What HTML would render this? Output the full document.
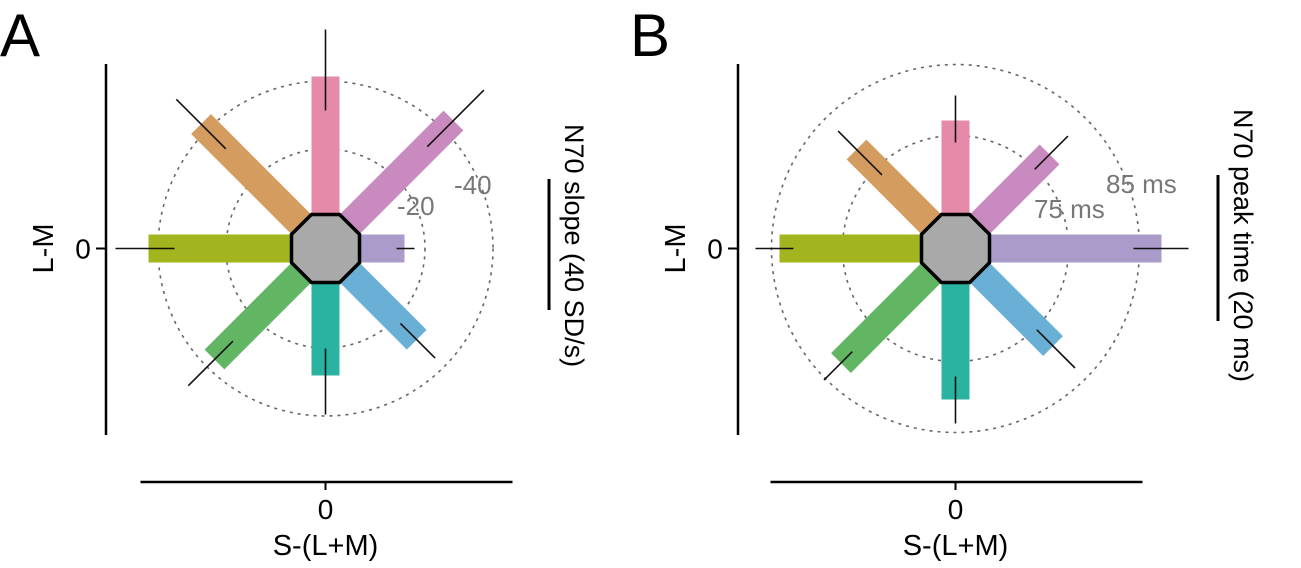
<!DOCTYPE html>
<html><head><meta charset="utf-8"><style>
html,body{margin:0;padding:0;background:#fff;}
svg{display:block;font-family:"Liberation Sans",Arial,sans-serif;}
</style></head><body>
<svg id="fig" width="1301" height="568" viewBox="0 0 1301 568">
<text x="0" y="56" font-size="60">A</text>
<text x="630" y="56" font-size="60">B</text>
<g id="panelA"></g>
<g id="panelB"></g>
</svg>
<script>
// directions: up, up-right, right, down-right, down, down-left, left, up-left
const angles = [90, 45, 0, -45, -90, -135, 180, 135];
const colors = ['#e58aa8','#c98bbf','#ab9bca','#6ab0d6','#2bb3a2','#62b562','#a2b41e','#d49c5f'];
const dirNames = ['up','up-right','right','down-right','down','down-left','left','up-left'];
// Panel A values (pixel radius units of the polar plot)
const barsA = [172, 181, 79, 129, 127, 157, 177, 176];
const errLoA = [138, 144, 71, 106, 100, 131, 151, 141];
const errHiA = [219, 224, 89, 155, 166, 194, 210, 211];
const ringsA = [99.5, 167.5];
const ringLabelsA = ['-20', '-40'];
// Panel B values
const barsB = [128, 133, 206, 138, 151, 162, 176, 140];
const errLoB = [106, 112, 178, 115, 128, 146, 162, 104];
const errHiB = [153, 159, 233, 169, 175, 186, 200, 166];
const ringsB = [113, 184];
const ringLabelsB = ['75 ms', '85 ms'];

const NS = 'http://www.w3.org/2000/svg';
function mk(tag, attrs, parent){const e=document.createElementNS(NS,tag);for(const k in attrs)e.setAttribute(k,attrs[k]);parent.appendChild(e);return e;}

function drawPanel(g, cfg){
  const cx=cfg.cx, cy=cfg.cy;
  const px=(r,a)=>cx+r*Math.cos(a*Math.PI/180);
  const py=(r,a)=>cy-r*Math.sin(a*Math.PI/180);
  cfg.rings.forEach((r,i)=>{
    const c=mk('circle',{cx:cx,cy:cy,r:r,fill:'none',stroke:'#666','stroke-width':1.6,'stroke-dasharray':'3 5'},g);
    
    
    const t=mk('text',{x:cfg.ringLabelPos[i][0],y:cfg.ringLabelPos[i][1],'font-size':26,fill:'#777'},g);
    t.textContent=cfg.ringLabels[i];
    
    
  });
  cfg.bars.forEach((v,i)=>{
    const a=angles[i];
    const b=mk('line',{x1:cx,y1:cy,x2:px(v,a),y2:py(v,a),stroke:colors[i],'stroke-width':28},g);
    
    
  });
  cfg.bars.forEach((v,i)=>{
    const a=angles[i];
    const e=mk('line',{x1:px(cfg.lo[i],a),y1:py(cfg.lo[i],a),x2:px(cfg.hi[i],a),y2:py(cfg.hi[i],a),stroke:'#111','stroke-width':1.6},g);
    
    
  });
  const R=34/Math.cos(Math.PI/8);let pts=[];
  for(let k=0;k<8;k++){const a=22.5+45*k;pts.push(px(R,a).toFixed(1)+','+py(R,a).toFixed(1));}
  const o=mk('polygon',{points:pts.join(' '),fill:'#a8a9a8',stroke:'#000','stroke-width':3.5},g);
  
  
  const ya=mk('line',{x1:cfg.yAxisX,y1:64,x2:cfg.yAxisX,y2:435,stroke:'#000','stroke-width':2.5},g);
  
  
  mk('line',{x1:cfg.yAxisX-10,y1:cy,x2:cfg.yAxisX,y2:cy,stroke:'#000','stroke-width':2},g);
  const xa=mk('line',{x1:cx-185,y1:482,x2:cx+187,y2:482,stroke:'#000','stroke-width':2.5},g);
  
  
  mk('line',{x1:cx,y1:482,x2:cx,y2:490,stroke:'#000','stroke-width':2},g);
  const t0=mk('text',{x:cx,y:519,'font-size':28,'text-anchor':'middle'},g);t0.textContent='0';
  
  
  const t1=mk('text',{x:cfg.yAxisX-23,y:cy+10,'font-size':28,'text-anchor':'middle'},g);t1.textContent='0';
  
  
  const xl=mk('text',{x:cx,y:555,'font-size':29,'text-anchor':'middle'},g);xl.textContent='S-(L+M)';
  
  
  const yl=mk('text',{x:0,y:0,'font-size':29,'text-anchor':'middle',transform:`translate(${cfg.yAxisX-53},${cy}) rotate(-90)`},g);yl.textContent='L-M';
  
  
  const sb=mk('line',{x1:cfg.sbX,y1:cfg.sbY1,x2:cfg.sbX,y2:cfg.sbY2,stroke:'#000','stroke-width':3},g);
  
  
  const st=mk('text',{x:0,y:0,'font-size':27,'text-anchor':'middle',transform:`translate(${cfg.sbX+16},${cy-3}) rotate(90)`},g);st.textContent=cfg.sbText;
  
  
}
drawPanel(document.getElementById('panelA'),{cx:325.5,cy:248.5,bars:barsA,lo:errLoA,hi:errHiA,rings:ringsA,ringLabels:ringLabelsA,ringLabelPos:[[397,215],[454,194]],yAxisX:106,sbX:549,sbY1:179,sbY2:310,sbText:'N70 slope (40 SD/s)'});
drawPanel(document.getElementById('panelB'),{cx:955.5,cy:248.5,bars:barsB,lo:errLoB,hi:errHiB,rings:ringsB,ringLabels:ringLabelsB,ringLabelPos:[[1034,218],[1106,193]],yAxisX:738,sbX:1218,sbY1:175,sbY2:321,sbText:'N70 peak time (20 ms)'});
</script>
</body></html>
